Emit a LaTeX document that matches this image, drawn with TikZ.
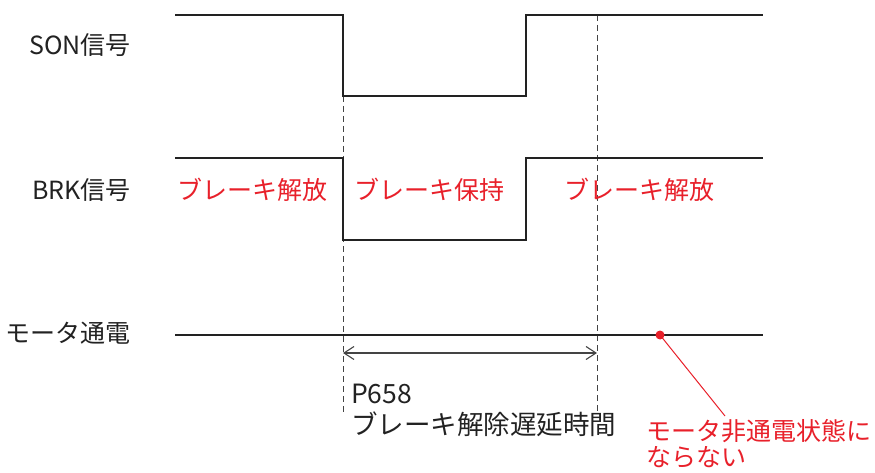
\documentclass[tikz,border=0pt]{standalone}
\usepackage{fontspec}
\setmainfont{Noto Sans CJK JP}
\usetikzlibrary{arrows.meta}
\definecolor{ink}{HTML}{222222}
\definecolor{alert}{HTML}{E8202A}
\definecolor{guide}{HTML}{444444}
\tikzset{
  wave/.style={line width=2.6pt, draw=ink},
  guideline/.style={line width=0.9pt, draw=guide, dash pattern=on 6pt off 4pt},
  label/.style={inner sep=0pt, text=ink, font=\fontsize{25}{29}\selectfont},
  redlabel/.style={inner sep=0pt, text=alert, font=\fontsize{25}{26.5}\selectfont},
  dimline/.style={line width=1.1pt, draw=guide, {Straight Barb[length=10pt,width=13pt]}-{Straight Barb[length=10pt,width=13pt]}},
}
\begin{document}
\begin{tikzpicture}[x=1pt,y=-1pt]
\useasboundingbox (0,0) rectangle (875,473);
% waveform corner coordinates
\coordinate (s0) at (175,15);
\coordinate (s1) at (343,15);
\coordinate (s2) at (343,96);
\coordinate (s3) at (526,96);
\coordinate (s4) at (526,15);
\coordinate (s5) at (763,15);
\coordinate (b0) at (175,158);
\coordinate (b1) at (343,158);
\coordinate (b2) at (343,240);
\coordinate (b3) at (526,240);
\coordinate (b4) at (526,158);
\coordinate (b5) at (763,158);
\coordinate (m0) at (175,335);
\coordinate (m1) at (763,335);
\coordinate (g1a) at (343,96);
\coordinate (g1b) at (343,414);
\coordinate (g2a) at (597,15);
\coordinate (g2b) at (597,414);
\coordinate (d0) at (343,353);
\coordinate (d1) at (597,353);
% guide lines
\draw[guideline] (g1a) -- (g1b);
\draw[guideline] (g2a) -- (g2b);
% waveforms
\draw[wave] (s0) -- (s1) -- (s2) -- (s3) -- (s4) -- (s5);
\draw[wave] (b0) -- (b1) -- (b2) -- (b3) -- (b4) -- (b5);
\draw[wave] (m0) -- (m1);
% dimension arrow
\draw[dimline] (d0) -- (d1);
% labels
\node[label, anchor=east] (son) at (131,45) {SON信号};
\node[label, anchor=east] (brk) at (131,190) {BRK信号};
\node[label, anchor=east] (mot) at (131,333) {モータ通電};
\node[redlabel, anchor=west] (r1) at (177,190) {ブレーキ解放};
\node[redlabel, anchor=west] (r2) at (354,190) {ブレーキ保持};
\node[redlabel, anchor=west] (r3) at (564,190) {ブレーキ解放};
\node[label, anchor=north west, align=left, font=\fontsize{26.5}{31}\selectfont] (p658) at (351,384) {P658\\ブレーキ解除遅延時間};
% red note
\node[circle, fill=alert, inner sep=0pt, minimum size=9pt] (dot) at (660,335) {};
\node[redlabel, anchor=north west, align=left] (note) at (646,419) {モータ非通電状態に\\ならない};
\coordinate (notetip) at (725,416);
\draw[alert, line width=1pt] (dot.center) -- (notetip);
\end{tikzpicture}
\end{document}
